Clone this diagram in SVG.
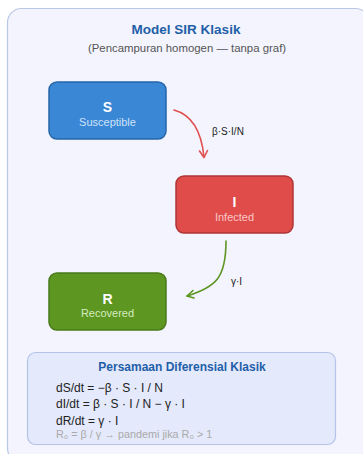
<svg xmlns="http://www.w3.org/2000/svg" width="363" height="454" viewBox="0 0 363 454">
<style>
text{font-family:"Liberation Sans",Arial,sans-serif}
.box{stroke-width:1.5}
.lbl{font-size:14px;font-weight:bold;fill:#fff;text-anchor:middle}
.sub{font-size:11px;text-anchor:middle}
.eq{font-size:12px;fill:#222}
.edge{fill:none;stroke-width:1.6;stroke-linecap:round;stroke-linejoin:round}
.elbl{font-size:10px;fill:#222}
</style>
<rect x="7.5" y="8.5" width="362" height="454" rx="14" fill="#f3f4fd" stroke="#b9c7e6" stroke-width="1.2"/>
<text x="186" y="34" text-anchor="middle" font-size="13.5" font-weight="bold" fill="#1f5fa8">Model SIR Klasik</text>
<text x="187" y="52" text-anchor="middle" font-size="11.4" fill="#555">(Pencampuran homogen — tanpa graf)</text>
<g id="edges">
<g id="e-si">
<path class="edge" stroke="#e05050" d="M174,110 Q200,117 204,157"/>
<path class="edge" stroke="#e05050" d="M199.5,151 L204,157.5 L207.5,150.5"/>
<text class="elbl" x="212" y="135">β·S·I/N</text>
</g>
<g id="e-ir">
<path class="edge" stroke="#5d9621" d="M226,241 C226,278 216,287 187,296"/>
<path class="edge" stroke="#5d9621" d="M193,290.5 L187,296 L194,298"/>
<text class="elbl" x="231" y="285">γ·I</text>
</g>
</g>
<g id="S">
<rect class="box" x="49" y="82" width="117" height="57" rx="8" fill="#3a87d6" stroke="#2566a9"/>
<text class="lbl" x="107.5" y="112">S</text>
<text class="sub" x="107.5" y="126" fill="#cfe3f8">Susceptible</text>
</g>
<g id="I">
<rect class="box" x="176" y="176" width="117" height="57" rx="8" fill="#e04c4a" stroke="#b03636"/>
<text class="lbl" x="234.5" y="207">I</text>
<text class="sub" x="234.5" y="221" fill="#f8c9c8">Infected</text>
</g>
<g id="R">
<rect class="box" x="49" y="273" width="117" height="57" rx="8" fill="#5d9621" stroke="#4a7a1a"/>
<text class="lbl" x="107.5" y="304">R</text>
<text class="sub" x="107.5" y="317" fill="#d6ecc0">Recovered</text>
</g>
<g id="eqbox">
<rect x="27.5" y="352.5" width="308" height="92" rx="8" fill="#e4e9fb" stroke="#b4c4e8" stroke-width="1.2"/>
<text x="182" y="371" text-anchor="middle" font-size="12" font-weight="bold" fill="#1f5fa8">Persamaan Diferensial Klasik</text>
<text class="eq" x="56" y="392">dS/dt = −β · S · I / N</text>
<text class="eq" x="56" y="408">dI/dt = β · S · I / N − γ · I</text>
<text class="eq" x="56" y="425">dR/dt = γ · I</text>
<text x="56" y="438" font-size="10.8" fill="#aaa">R₀ = β / γ → pandemi jika R₀ &gt; 1</text>
</g>
</svg>
